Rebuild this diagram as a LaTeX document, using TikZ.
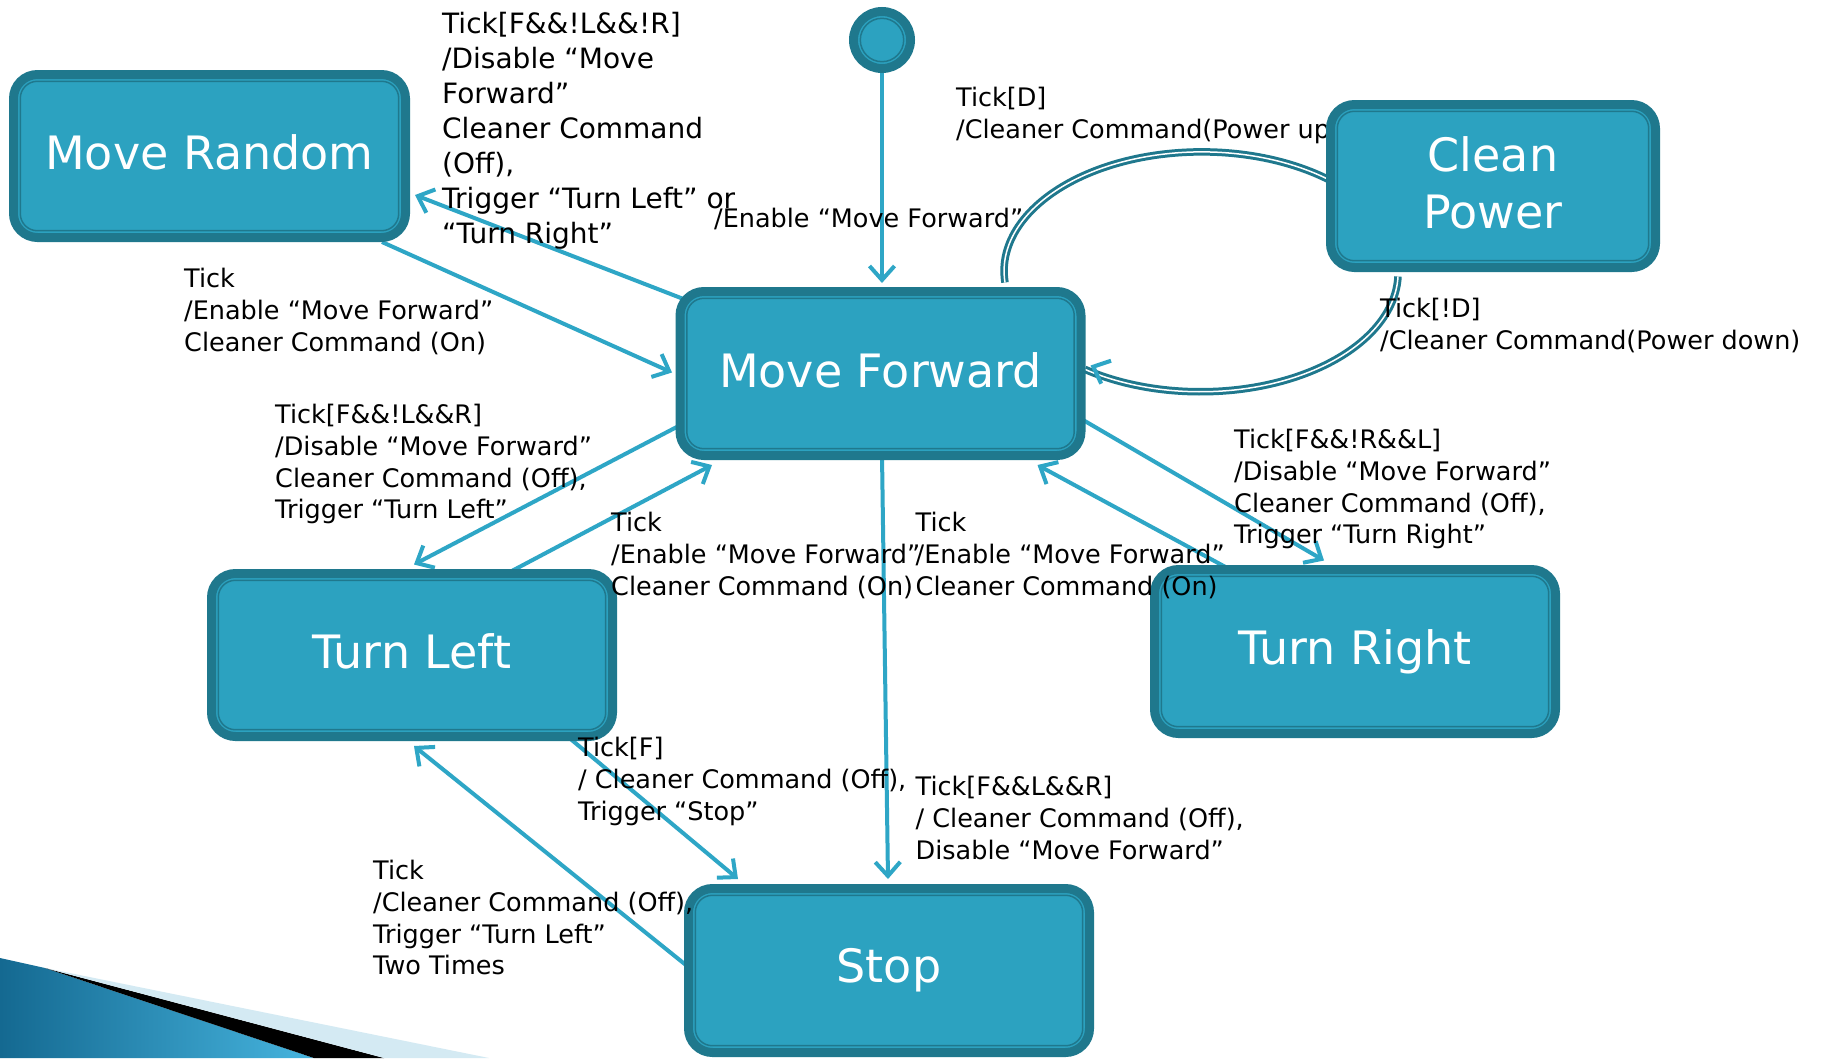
\documentclass[tikz,border=0pt]{standalone}
\usepackage{fontspec}
\setmainfont{DejaVu Sans}
\usetikzlibrary{arrows.meta,calc}
\pgfdeclarelayer{bg}
\pgfsetlayers{bg,main}
\definecolor{boxfill}{RGB}{44,162,192}
\definecolor{boxdark}{RGB}{31,120,141}
\definecolor{arrowc}{RGB}{46,166,198}
\definecolor{decoA}{RGB}{20,105,145}
\definecolor{decoB}{RGB}{70,180,222}
\definecolor{decoLight}{RGB}{212,234,243}
\newcommand\lblfont{\fontsize{25.5}{31.8}\selectfont}
\newcommand\biglblfont{\fontsize{28}{35}\selectfont}
\newcommand\boxfnt{\fontsize{46}{57}\selectfont}
\begin{document}
\begin{tikzpicture}[x=1pt,y=-1pt,
  stbox/.style={rectangle, rounded corners=24pt, fill=boxfill, draw=boxdark, line width=9pt,
    text=white, font=\boxfnt, align=center, inner sep=0pt, minimum width=401pt, minimum height=164pt,
    path picture={\draw[boxdark,line width=1.5pt,rounded corners=17pt]
      ([shift={(6.8pt,-6.8pt)}]path picture bounding box.north west) rectangle
      ([shift={(-6.8pt,6.8pt)}]path picture bounding box.south east);}},
  lift/.style={text depth=7pt},
  initst/.style={circle, fill=boxfill, draw=boxdark, line width=9pt, minimum size=57pt, inner sep=0pt,
    path picture={\draw[boxdark,line width=1.5pt] (path picture bounding box.center) circle[radius=21.7pt];}},
  conn/.style={draw=arrowc, line width=4pt, -{Straight Barb[length=14pt,width=25pt]}},
  loopline/.style={draw=boxdark, line width=3pt, double=white, double distance=1.5pt},
  lbl/.style={anchor=north west, inner sep=0pt, align=left, font=\lblfont, text=black},
  biglbl/.style={lbl, font=\biglblfont}]
\useasboundingbox (0,0) rectangle (1824,1058);
% states
\node[initst] (init) at (882,40) {};
\node[stbox, lift, minimum width=392pt, minimum height=163pt] (mr) at (209.5,156) {Move Random};
\node[stbox, lift, minimum width=325pt, minimum height=163pt] (cp) at (1493,186) {Clean\\Power};
\node[stbox, lift] (mf) at (880.5,373.5) {Move Forward};
\node[stbox, lift, minimum height=163pt] (tl) at (412,655) {Turn Left};
\node[stbox] (tr) at (1355,651.5) {Turn Right};
\node[stbox] (st) at (889,970.5) {Stop};
\begin{pgfonlayer}{bg}
\fill[white] (0,0) rectangle (1824,1058);
% corner decoration
\shade[left color=decoA, right color=decoB] (0,958) -- (45,968) -- (314,1058) -- (0,1058) -- cycle;
\fill[black] (45,968) -- (384,1058) -- (314,1058) -- cycle;
\fill[decoLight] (45,968) -- (489,1058) -- (384,1058) -- cycle;
% loop between Move Forward and Clean Power
\draw[loopline] ([shift={(124.5,-4.5)}]mf.north) arc[start angle=185.5, end angle=50.6, x radius=197.8pt, y radius=119.2pt];
\draw[loopline] ([shift={(-95,4.5)}]cp.south) arc[start angle=-1.9, end angle=-125.7, x radius=197.8pt, y radius=119.2pt];
% connectors
\draw[conn] (init.south) -- ([shift={(1.5,-4)}]mf.north);
\draw[conn] ([shift={(8,12)}]mf.north west) -- ([shift={(5,39)}]mr.east);
\draw[conn] ([shift={(-28,0)}]mr.south east) -- ([shift={(-3.5,-1)}]mf.west);
\draw[conn] ([shift={(6,51)}]mf.west) -- ([shift={(2,-4.5)}]tl.north);
\draw[conn] ([shift={(96,4)}]tl.north) -- ([shift={(-168.5,5)}]mf.south);
\draw[conn] ([shift={(-5,45)}]mf.east) -- ([shift={(-31,-4.5)}]tr.north);
\draw[conn] ([shift={(-124,5)}]tr.north) -- ([shift={(157,5)}]mf.south);
\draw[conn] ([shift={(1.5,-5)}]mf.south) -- ([shift={(-1,-5)}]st.north);
\draw[conn] ([shift={(-50,-5)}]tl.south east) -- ([shift={(54,-5)}]st.north west);
\draw[conn] ([shift={(5,-3)}]st.west) -- ([shift={(2,5)}]tl.south);
% label partly hidden by Clean Power
\node[lbl] (l2) at (956,87) {Tick[D]\\/Cleaner Command(Power up)};
\end{pgfonlayer}
% labels
\node[biglbl] (l1) at (442,12) {Tick[F\&\&!L\&\&!R]\\/Disable “Move\\Forward”\\Cleaner Command\\(Off),\\Trigger “Turn Left” or\\“Turn Right”};
\node[lbl] (l3) at (714,208) {/Enable “Move Forward”};
\node[lbl] (l4) at (1380,298) {Tick[!D]\\/Cleaner Command(Power down)};
\node[lbl] (l5) at (184,268) {Tick\\/Enable “Move Forward”\\Cleaner Command (On)};
\node[lbl] (l6) at (275,404) {Tick[F\&\&!L\&\&R]\\/Disable “Move Forward”\\Cleaner Command (Off),\\Trigger “Turn Left”};
\node[lbl] (l7) at (611,512) {Tick\\/Enable “Move Forward”\\Cleaner Command (On)};
\node[lbl] (l8) at (915.5,512) {Tick\\/Enable “Move Forward”\\Cleaner Command (On)};
\node[lbl] (l9) at (1234,429) {Tick[F\&\&!R\&\&L]\\/Disable “Move Forward”\\Cleaner Command (Off),\\Trigger “Turn Right”};
\node[lbl] (l10) at (578,737) {Tick[F]\\/ Cleaner Command (Off),\\Trigger “Stop”};
\node[lbl] (l11) at (915.5,776) {Tick[F\&\&L\&\&R]\\/ Cleaner Command (Off),\\Disable “Move Forward”};
\node[lbl] (l12) at (373,860) {Tick\\/Cleaner Command (Off),\\Trigger “Turn Left”\\Two Times};
% arrow tip of the loop into Move Forward
\draw[conn] ([shift={(7.8,-6.8)}]mf.east) -- ([shift={(5,-8)}]mf.east);
\end{tikzpicture}
\end{document}
